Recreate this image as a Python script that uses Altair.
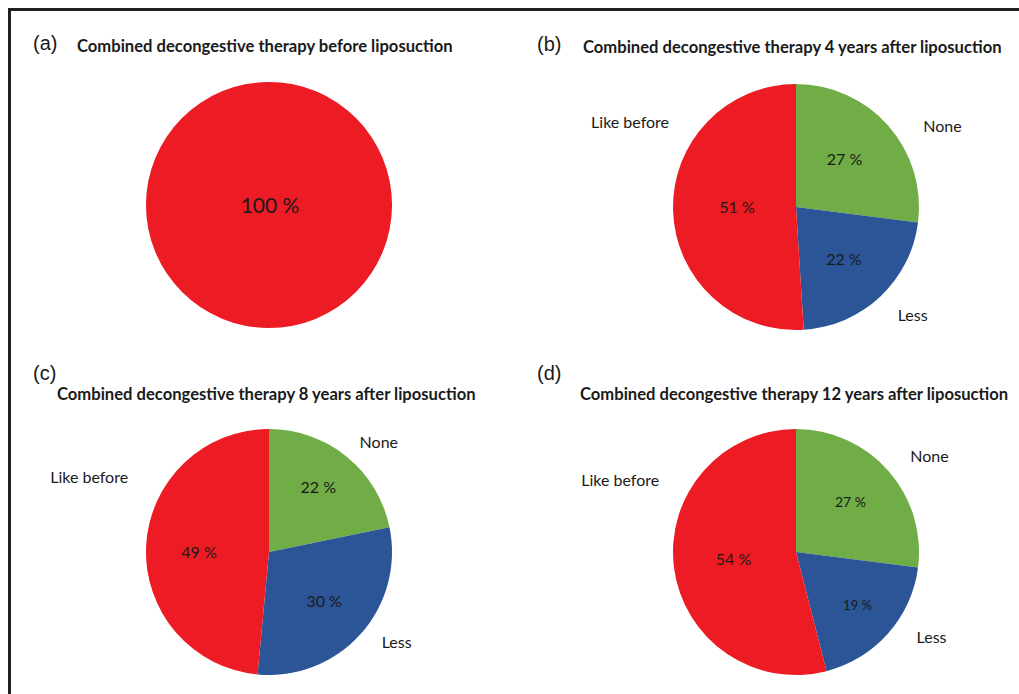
import math

import altair as alt
import pandas as pd

# ---- data -------------------------------------------------------------
categories = ["None", "Less", "Like before"]
panel_tags = ["(a)", "(b)", "(c)", "(d)"]
panel_titles = [
    "Combined decongestive therapy before liposuction",
    "Combined decongestive therapy 4 years after liposuction",
    "Combined decongestive therapy 8 years after liposuction",
    "Combined decongestive therapy 12 years after liposuction",
]
share_before = [0, 0, 100]
share_4y = [27, 22, 51]
share_8y = [22, 30, 49]
share_12y = [27, 19, 54]
panel_shares = [share_before, share_4y, share_8y, share_12y]

# ---- styling ----------------------------------------------------------
slice_colors = ["#70AD47", "#2B5597", "#ED1C24"]
TEXT = "#1a1a1a"
LABEL_FONT = "Lato"
TAG_FONT = "Liberation Sans"
PIE_R = 123
INNER_R = 70
OUTER_R = 150

# pie centres and header placement for each panel
layout = [
    dict(cx=269, cy=205, tag=(33, 44), title=(77, 47)),
    dict(cx=796, cy=207, tag=(537, 45), title=(583, 48)),
    dict(cx=269, cy=552, tag=(33, 374), title=(57, 395)),
    dict(cx=796, cy=552, tag=(537, 374), title=(580, 395)),
]

# fine placement of the value labels (radius, dx, dy, size) per category
inner_style = [
    {"Like before": (0, 1, 2, 21)},
    {"None": (INNER_R, -4, -1, 16), "Less": (INNER_R, 0, 2, 16), "Like before": (INNER_R, 11, -1, 16)},
    {"None": (INNER_R, 5, -10, 16), "Less": (INNER_R, 3, 3, 16), "Like before": (INNER_R, 0, 4, 16)},
    {"None": (INNER_R, 2, -3, 14), "Less": (INNER_R, 9, 8, 13), "Like before": (INNER_R, 7, -1, 16)},
]
# category names outside the pies (dx, dy)
outer_style = [
    {},
    {"None": (34, 19), "Less": (14, 0), "Like before": (-16, -89)},
    {"None": (15, 7), "Less": (16, -9), "Like before": (-30, -67)},
    {"None": (21, 4), "Less": (23, -13), "Like before": (-27, -90)},
]

theta_scale = alt.Scale(domain=[0, 1], range=[0, 2 * math.pi])
color_scale = alt.Scale(domain=categories, range=slice_colors)


def pie_base(shares):
    df = pd.DataFrame({"category": categories, "share": shares, "order": list(range(len(categories)))})
    return (
        alt.Chart(df)
        .transform_joinaggregate(total="sum(share)")
        .transform_window(cum="sum(share)", sort=[alt.SortField("order")], frame=[None, 0])
        .transform_calculate(
            t0="(datum.cum - datum.share) / datum.total",
            t1="datum.cum / datum.total",
            tm="(datum.cum - datum.share / 2) / datum.total",
            label="datum.share + ' %'",
        )
    )


layers = []

# frame around the figure
frame_src = alt.Chart(pd.DataFrame({"k": [0]}))
layers.append(
    frame_src.mark_rule(color="#231f20", strokeWidth=3).encode(
        x=alt.value(8), x2=alt.value(1019), y=alt.value(9.5)
    )
)
layers.append(
    frame_src.mark_rule(color="#231f20", strokeWidth=3).encode(
        x=alt.value(9.5), y=alt.value(8), y2=alt.value(694)
    )
)

for shares, tag, title, lay, inn, out in zip(
    panel_shares, panel_tags, panel_titles, layout, inner_style, outer_style
):
    cx, cy = lay["cx"], lay["cy"]
    base = pie_base(shares)

    layers.append(
        base.mark_arc(outerRadius=PIE_R).encode(
            theta=alt.Theta("t0:Q", scale=theta_scale),
            theta2="t1:Q",
            color=alt.Color("category:N", scale=color_scale, legend=None),
            x=alt.value(cx),
            y=alt.value(cy),
        )
    )

    for cat, (r, dx, dy, size) in inn.items():
        layers.append(
            base.transform_filter(alt.datum.category == cat)
            .mark_text(radius=r, dx=dx, dy=dy, fontSize=size, font=LABEL_FONT, color=TEXT,
                       align="center", baseline="middle")
            .encode(
                theta=alt.Theta("tm:Q", scale=theta_scale),
                text="label:N",
                x=alt.value(cx),
                y=alt.value(cy),
            )
        )

    for cat, (dx, dy) in out.items():
        layers.append(
            base.transform_filter(alt.datum.category == cat)
            .mark_text(radius=OUTER_R, dx=dx, dy=dy, fontSize=16, font=LABEL_FONT, color=TEXT,
                       align="center", baseline="middle")
            .encode(
                theta=alt.Theta("tm:Q", scale=theta_scale),
                text="category:N",
                x=alt.value(cx),
                y=alt.value(cy),
            )
        )

    head = alt.Chart(pd.DataFrame({"tag": [tag], "title": [title]}))
    layers.append(
        head.mark_text(font=TAG_FONT, fontSize=20, color=TEXT, align="left", baseline="middle").encode(
            text="tag:N", x=alt.value(lay["tag"][0]), y=alt.value(lay["tag"][1])
        )
    )
    layers.append(
        head.mark_text(font=LABEL_FONT, fontSize=16.6, fontWeight="bold", color=TEXT,
                       align="left", baseline="middle").encode(
            text="title:N", x=alt.value(lay["title"][0]), y=alt.value(lay["title"][1])
        )
    )

chart = (
    alt.layer(*layers)
    .properties(width=1019, height=694, padding=0, autosize="none", background="white")
    .configure_view(stroke=None)
)

chart.save("out.html", embed_options={"renderer": "svg", "actions": False})
